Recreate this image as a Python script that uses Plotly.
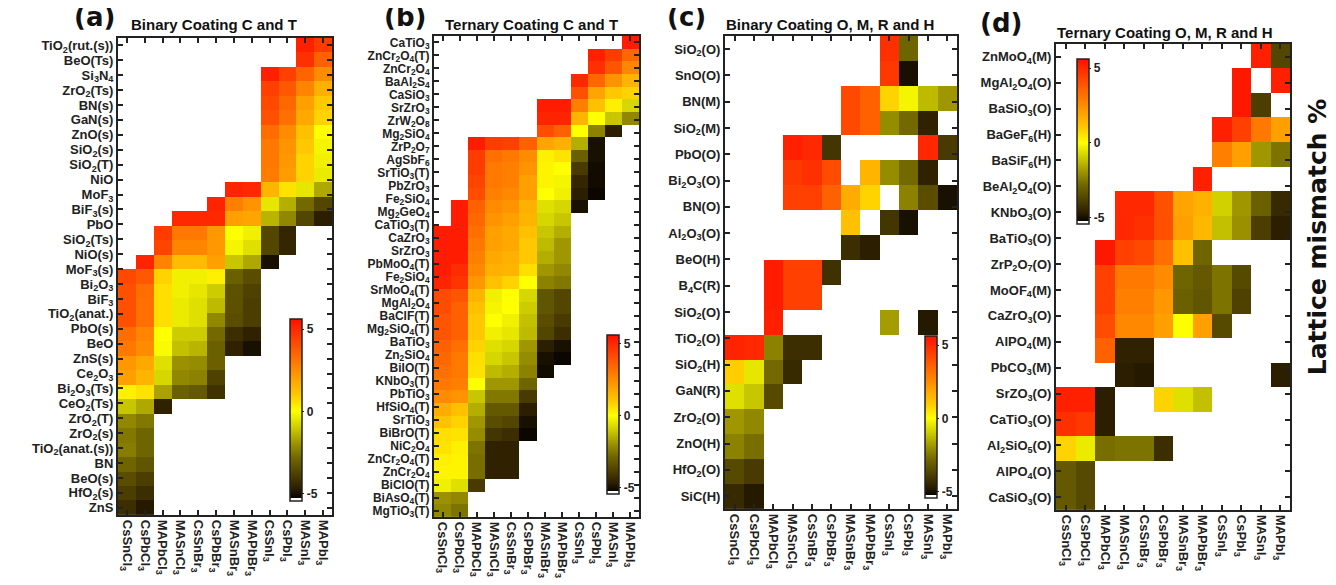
import plotly.graph_objects as go

N = None
PAGE_W, PAGE_H = 1336, 585
OFF = 8  # browser body margin
W, H = PAGE_W - OFF, PAGE_H - OFF

columns = ["CsSnCl<sub>3</sub>", "CsPbCl<sub>3</sub>", "MAPbCl<sub>3</sub>", "MASnCl<sub>3</sub>",
           "CsSnBr<sub>3</sub>", "CsPbBr<sub>3</sub>", "MASnBr<sub>3</sub>", "MAPbBr<sub>3</sub>",
           "CsSnI<sub>3</sub>", "CsPbI<sub>3</sub>", "MASnI<sub>3</sub>", "MAPbI<sub>3</sub>"]

a_labels = ["TiO<sub>2</sub>(rut.(s))", "BeO(Ts)", "Si<sub>3</sub>N<sub>4</sub>", "ZrO<sub>2</sub>(Ts)", "BN(s)",
            "GaN(s)", "ZnO(s)", "SiO<sub>2</sub>(s)", "SiO<sub>2</sub>(T)", "NiO", "MoF<sub>3</sub>",
            "BiF<sub>3</sub>(s)", "PbO", "SiO<sub>2</sub>(Ts)", "NiO(s)", "MoF<sub>3</sub>(s)",
            "Bi<sub>2</sub>O<sub>3</sub>", "BiF<sub>3</sub>", "TiO<sub>2</sub>(anat.)", "PbO(s)", "BeO",
            "ZnS(s)", "Ce<sub>2</sub>O<sub>3</sub>", "Bi<sub>2</sub>O<sub>3</sub>(Ts)", "CeO<sub>2</sub>(Ts)",
            "ZrO<sub>2</sub>(T)", "ZrO<sub>2</sub>(s)", "TiO<sub>2</sub>(anat.(s))", "BN", "BeO(s)",
            "HfO<sub>2</sub>(s)", "ZnS"]

a_values = [
    [N]*10 + [5.2, 4.5],
    [N]*10 + [4.8, 3.6],
    [N]*8 + [5.2, 4.4, 3.5, 2.5],
    [N]*8 + [4.4, 3.8, 2.7, 1.6],
    [N]*8 + [4.2, 3.4, 2.0, 1.0],
    [N]*8 + [4.0, 3.2, 1.8, 0.8],
    [N]*8 + [3.3, 2.5, 1.2, 0.0],
    [N]*8 + [3.0, 2.3, 1.0, -0.2],
    [N]*8 + [3.0, 2.2, 0.8, -0.3],
    [N]*8 + [2.9, 2.1, 0.8, -0.4],
    [N]*6 + [5.1, 5.0, 1.5, 0.5, -0.5, -1.6],
    [N]*5 + [5.1, 2.8, 2.3, -0.5, -1.5, -2.8, -3.7],
    [N]*3 + [5.0, 5.0, 5.0, 2.0, 1.9, -1.4, -2.2, -3.7, -4.7],
    [N]*2 + [4.5, 3.0, 3.0, 2.2, 0.0, -0.3, -3.7, -4.5],
    [N]*2 + [4.3, 2.7, 2.7, 2.2, -0.2, -0.6, -3.7, -4.5],
    [N, 5.1, 2.7, 1.3, 1.3, 2.0, -1.1, -1.6, -5.0],
    [4.2, 3.8, 0.8, -0.3, -0.3, 0.3, -3.0, -3.5],
    [4.0, 3.3, 0.6, -0.3, -0.5, -1.0, -3.4, -3.8],
    [4.0, 3.2, 0.6, -0.4, -0.6, -1.3, -3.4, -3.9],
    [4.0, 3.2, 0.6, -0.4, -0.6, -2.2, -3.5, -3.9],
    [3.3, 2.7, 0.0, -1.0, -1.0, -2.8, -4.3, -4.6],
    [3.0, 2.5, -0.1, -1.2, -1.4, -3.0, -4.6, -5.0],
    [2.2, 1.8, -0.6, -2.0, -2.1, -3.0],
    [2.0, 1.5, -0.8, -2.2, -2.3, -3.8],
    [0.3, 0.5, -1.7, -3.0, -3.2, -4.2],
    [-1.1, -1.6, -4.6],
    [-2.2, -2.5],
    [-2.5, -2.9],
    [-2.4, -2.9],
    [-2.9, -3.3],
    [-3.5, -3.9],
    [-3.9, -4.3],
    [-4.3, -4.8],
]

b_labels = ["CaTiO<sub>3</sub>", "ZnCr<sub>2</sub>O<sub>4</sub>(T)", "ZnCr<sub>2</sub>O<sub>4</sub>",
            "BaAl<sub>2</sub>S<sub>4</sub>", "CaSiO<sub>3</sub>", "SrZrO<sub>3</sub>", "ZrW<sub>2</sub>O<sub>8</sub>",
            "Mg<sub>2</sub>SiO<sub>4</sub>", "ZrP<sub>2</sub>O<sub>7</sub>", "AgSbF<sub>6</sub>",
            "SrTiO<sub>3</sub>(T)", "PbZrO<sub>3</sub>", "Fe<sub>2</sub>SiO<sub>4</sub>", "Mg<sub>2</sub>GeO<sub>4</sub>",
            "CaTiO<sub>3</sub>(T)", "CaZrO<sub>3</sub>", "SrZrO<sub>3</sub>", "PbMoO<sub>4</sub>(T)",
            "Fe<sub>2</sub>SiO<sub>4</sub>", "SrMoO<sub>4</sub>(T)", "MgAl<sub>2</sub>O<sub>4</sub>", "BaClF(T)",
            "Mg<sub>2</sub>SiO<sub>4</sub>(T)", "BaTiO<sub>3</sub>", "Zn<sub>2</sub>SiO<sub>4</sub>", "BiIO(T)",
            "KNbO<sub>3</sub>(T)", "PbTiO<sub>3</sub>", "HfSiO<sub>4</sub>(T)", "SrTiO<sub>3</sub>", "BiBrO(T)",
            "NiC<sub>2</sub>O<sub>4</sub>", "ZnCr<sub>2</sub>O<sub>4</sub>(T)", "ZnCr<sub>2</sub>O<sub>4</sub>",
            "BiClO(T)", "BiAsO<sub>4</sub>(T)", "MgTiO<sub>3</sub>(T)"]

b_values = [
    [N]*11 + [5.3],
    [N]*9 + [5.2, 4.5, 3.4],
    [N]*9 + [4.8, 3.9, 2.6],
    [N]*8 + [5.0, 3.4, 2.3, 1.5],
    [N]*8 + [4.0, 1.9, 1.0, 0.8],
    [N]*6 + [5.3, 5.3, 2.8, 1.2, 0.3, -0.8],
    [N]*6 + [5.1, 5.1, 1.5, 0.0, -1.1, -2.2],
    [N]*6 + [4.1, 3.6, 0.0, -2.3, -4.7],
    [N]*2 + [5.3, 4.5, 4.4, 3.6, 1.9, 1.6, -1.5, -5.0],
    [N]*2 + [4.5, 3.2, 3.0, 2.5, 0.3, 0.5, -3.0, -5.0],
    [N]*2 + [4.5, 3.0, 2.8, 2.3, 0.2, 0.0, -4.0, -5.1],
    [N]*2 + [4.3, 3.0, 2.8, 2.0, 0.2, -0.2, -4.5, -5.1],
    [N]*2 + [4.1, 2.8, 2.6, 2.0, 0.0, -0.3, -4.7, -5.2],
    [N, 5.3, 3.6, 2.5, 2.3, 1.6, -0.6, -0.8, -5.0],
    [N, 5.3, 3.4, 2.3, 2.0, 1.5, -0.8, -1.1],
    [5.3, 5.3, 3.2, 2.0, 1.8, 1.2, -1.1, -1.5],
    [5.3, 5.3, 3.0, 2.0, 1.8, 1.0, -1.3, -1.9],
    [5.3, 5.3, 2.8, 1.8, 1.6, 1.0, -1.5, -1.9],
    [5.3, 4.9, 2.6, 1.6, 1.5, 0.6, -1.9, -2.2],
    [5.1, 4.7, 2.2, 1.2, 0.8, 0.0, -2.3, -2.5],
    [4.1, 3.9, 1.5, -0.3, 0.0, -0.8, -3.3, -3.7],
    [4.1, 3.6, 1.2, -0.2, 0.0, -1.0, -3.3, -3.7],
    [3.9, 3.6, 1.0, 0.0, -0.3, -1.2, -3.5, -4.0],
    [3.9, 3.6, 1.0, -0.3, -0.5, -1.3, -3.7, -4.3],
    [3.6, 3.2, 0.8, -0.6, -0.8, -1.9, -4.7, -5.0],
    [3.4, 3.0, 0.6, -0.8, -1.1, -2.1, -5.0, -5.2],
    [3.2, 3.0, 0.5, -1.3, -1.5, -2.3, -5.1],
    [3.0, 2.8, 0.0, -1.9, -1.9, -2.9],
    [2.5, 2.3, -1.1, -2.5, -2.5, -4.0],
    [1.7, 1.2, -1.5, -3.2, -3.2, -4.7],
    [1.2, 0.8, -1.9, -3.5, -3.7, -5.0],
    [0.6, 0.5, -2.1, -4.1, -4.3, -5.2],
    [0.5, 0.3, -2.6, -4.6, -4.6],
    [0.3, 0.2, -2.7, -4.6, -4.6],
    [0.2, 0.2, -2.7, -4.6, -4.6],
    [-0.3, -0.6, -4.0],
    [-2.0, -2.2],
    [-2.2, -2.6],
]

c_labels = ["SiO<sub>2</sub>(O)", "SnO(O)", "BN(M)", "SiO<sub>2</sub>(M)", "PbO(O)",
            "Bi<sub>2</sub>O<sub>3</sub>(O)", "BN(O)", "Al<sub>2</sub>O<sub>3</sub>(O)", "BeO(H)",
            "B<sub>4</sub>C(R)", "SiO<sub>2</sub>(O)", "TiO<sub>2</sub>(O)", "SiO<sub>2</sub>(H)", "GaN(R)",
            "ZrO<sub>2</sub>(O)", "ZnO(H)", "HfO<sub>2</sub>(O)", "SiC(H)"]

c_values = [
    [N]*8 + [4.8, -2.9],
    [N]*8 + [4.6, -5.0],
    [N]*6 + [4.2, 3.6, 0.8, -0.2, -1.3, -1.9],
    [N]*6 + [4.2, 3.6, -2.1, -2.8, -4.6],
    [N]*3 + [5.2, 5.0, -4.1, N, N, N, N, 5.0, -4.0],
    [N]*3 + [4.6, 4.8, 4.1, N, 1.5, -2.1, -2.8, -4.6],
    [N]*3 + [4.4, 4.4, 3.6, 1.7, 0.8, N, -2.3, -3.5, -5.0],
    [N]*6 + [1.2, N, -4.1, -5.0],
    [N]*6 + [-4.3, -4.7],
    [N, N, 5.3, 4.4, 4.4, -4.2],
    [N, N, 5.3, 4.4, 4.4],
    [N, N, 5.2, N, N, N, N, N, -1.8, N, -4.8],
    [5.1, 5.0, -2.3, -4.3, -4.3],
    [0.9, -0.5, -2.8, -4.4],
    [-0.6, -1.1, -3.6],
    [-1.9, -2.2],
    [-2.3, -2.7],
    [-3.6, -4.0],
    [-4.4, -4.8],
]

d_labels = ["ZnMoO<sub>4</sub>(M)", "MgAl<sub>2</sub>O<sub>4</sub>(O)", "BaSiO<sub>3</sub>(O)",
            "BaGeF<sub>6</sub>(H)", "BaSiF<sub>6</sub>(H)", "BeAl<sub>2</sub>O<sub>4</sub>(O)",
            "KNbO<sub>3</sub>(O)", "BaTiO<sub>3</sub>(O)", "ZrP<sub>2</sub>O<sub>7</sub>(O)",
            "MoOF<sub>4</sub>(M)", "CaZrO<sub>3</sub>(O)", "AlPO<sub>4</sub>(M)", "PbCO<sub>3</sub>(M)",
            "SrZO<sub>3</sub>(O)", "CaTiO<sub>3</sub>(O)", "Al<sub>2</sub>SiO<sub>5</sub>(O)",
            "AlPO<sub>4</sub>(O)", "CaSiO<sub>3</sub>(O)"]

d_values = [
    [N]*10 + [5.2, -3.7],
    [N]*9 + [5.4, N, 5.2],
    [N]*9 + [5.4, -3.9],
    [N]*8 + [5.2, 4.4, 3.0, 2.0],
    [N]*8 + [2.8, 2.0, -1.9, -2.6],
    [N]*7 + [5.2],
    [N]*3 + [5.0, 5.0, 4.0, 1.9, 1.6, -0.9, -1.9, -3.0, -4.4],
    [N]*3 + [5.0, 4.8, 4.0, 2.0, 1.4, -1.2, -2.0, -3.9, -4.7],
    [N]*2 + [5.4, 4.4, 4.2, 3.2, 1.2, -2.9],
    [N]*2 + [4.4, 3.0, 3.0, 2.5, -2.9, -3.2, -2.6, -3.6],
    [N]*2 + [4.4, 2.8, 2.8, 2.2, -3.0, -3.3, -2.6, -3.8],
    [N]*2 + [4.1, 2.6, 2.6, 2.0, 0.0, 2.0, -3.6],
    [N]*2 + [3.6, -4.6, -4.6],
    [N]*3 + [-4.7, -4.8, N, N, N, N, N, N, -4.7],
    [5.2, 5.2, -4.7, N, N, 0.8, -0.6, -1.2],
    [4.8, 4.6, -4.7],
    [0.8, -0.4, -2.7, -2.6, -2.6, -4.3],
    [-3.2, -3.6],
    [-3.2, -3.6],
]

ZMIN, ZMAX = -5.45, 5.6
stops = [(-5.45, "#ffffff"), (-5.26, "#ffffff"), (-5.25, "#080400"), (-4.7, "#2c1e00"),
         (-3.9, "#4c3e00"), (-2.9, "#6e6400"), (-1.9, "#a09600"), (-1.0, "#cccc00"),
         (0.0, "#ffff00"), (1.0, "#ffc800"), (2.0, "#ffa000"), (3.0, "#ff7800"),
         (4.0, "#ff5000"), (5.0, "#ff2800"), (5.6, "#ff1000")]
colorscale = [[(v - ZMIN) / (ZMAX - ZMIN), c] for v, c in stops]


def px(x):
    return (x - OFF) / W


def py(y):
    return 1 - (y - OFF) / H


def pad(rows):
    return [r + [N] * (12 - len(r)) for r in rows]


panels = [
    # values, labels, plot box (x0, y0, x1, y1) page px, colorbar (x, ytop, ybottom), letter, pos, title, pos, label size
    (a_values, a_labels, (118, 38, 332, 517), (290, 320, 503), "(a)", (94, 17), "Binary Coating C and T", (129, 25), 13),
    (b_values, b_labels, (434, 36, 639, 519), (607, 336, 496), "(b)", (405, 17), "Ternary Coating C and T", (443, 25), 12),
    (c_values, c_labels, (725, 36, 957, 511), (925, 337, 500), "(c)", (686, 17), "Binary Coating O, M, R and H", (724, 25), 13),
    (d_values, d_labels, (1056, 44, 1290, 512), (1077, 59, 225), "(d)", (1001, 23), "Ternary Coating O, M, R and H", (1055, 33), 13),
]

fig = go.Figure()
annotations = []

for i, (vals, labels, box, cb, letter, lpos, title, tpos, lsize) in enumerate(panels):
    n = len(labels)
    rows = pad(vals)
    m = len(rows)
    ycent = [(k + 0.5) * n / m for k in range(m)]
    ax = "" if i == 0 else str(i + 1)
    fig.add_trace(go.Heatmap(
        z=rows, x=list(range(12)), y=ycent, xaxis="x" + ax, yaxis="y" + ax,
        colorscale=colorscale, zmin=ZMIN, zmax=ZMAX, hoverongaps=False,
        colorbar=dict(x=px(cb[0]), xanchor="left", y=py(cb[2]), yanchor="bottom",
                      len=(cb[2] - cb[1]) / H, lenmode="fraction", thickness=12,
                      outlinewidth=1.5, outlinecolor="#222222", xpad=0, ypad=0,
                      tickvals=[-5, 0, 5], ticktext=["-5", "0", "5"], ticks="outside",
                      ticklen=2, tickcolor="#222222",
                      tickfont=dict(family="Liberation Sans", size=12, color="#222222", weight="bold")),
    ))
    x0, y0, x1, y1 = box
    tickfont = dict(family="Liberation Sans", size=lsize, color="#222222", weight="bold")
    fig.layout["xaxis" + ax] = dict(
        domain=[px(x0), px(x1)], anchor="y" + ax, range=[-0.5, 11.5],
        tickvals=list(range(12)), ticktext=columns, tickangle=90,
        tickfont=dict(family="Liberation Sans", size=13, color="#222222", weight="bold"),
        ticks="inside", ticklen=5, tickwidth=1.5, tickcolor="#222222", mirror="ticks",
        showline=True, linewidth=2, linecolor="#222222", showgrid=False, zeroline=False)
    fig.layout["yaxis" + ax] = dict(
        domain=[py(y1), py(y0)], anchor="x" + ax, range=[n, 0],
        tickvals=[k + 0.5 for k in range(n)], ticktext=labels, tickfont=tickfont,
        ticks="inside", ticklen=5, tickwidth=1.5, tickcolor="#222222", mirror="ticks",
        showline=True, linewidth=2, linecolor="#222222", showgrid=False, zeroline=False)
    annotations.append(dict(x=px(lpos[0]), y=py(lpos[1]), xref="paper", yref="paper",
                            text="<b>" + letter + "</b>", showarrow=False, xanchor="center", yanchor="middle",
                            font=dict(family="DejaVu Sans", size=26, color="#111111")))
    annotations.append(dict(x=px(tpos[0]), y=py(tpos[1]), xref="paper", yref="paper",
                            text="<b>" + title + "</b>", showarrow=False, xanchor="left", yanchor="middle",
                            font=dict(family="Liberation Sans", size=15, color="#111111")))

annotations.append(dict(x=px(1317), y=py(238), xref="paper", yref="paper", text="<b>Lattice mismatch %</b>",
                        showarrow=False, textangle=-90, xanchor="center", yanchor="middle",
                        font=dict(family="DejaVu Sans", size=25, color="#111111")))

fig.update_layout(width=W, height=H, margin=dict(l=0, r=0, t=0, b=0),
                  paper_bgcolor="white", plot_bgcolor="white", annotations=annotations)

fig.write_html("out.html")
